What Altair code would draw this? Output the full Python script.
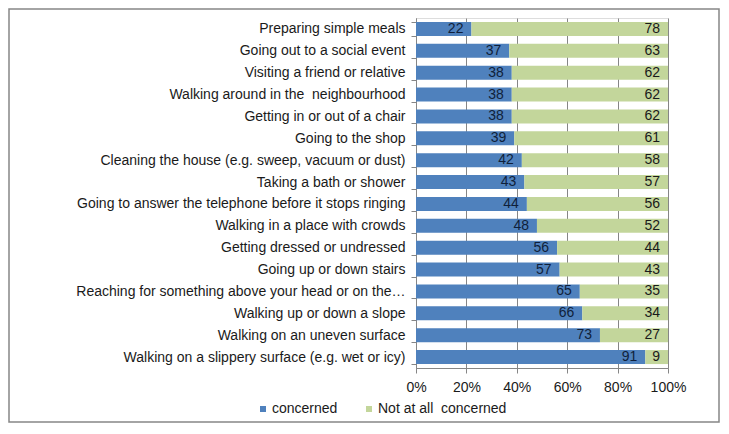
import altair as alt
import pandas as pd

categories = [
    "Preparing simple meals",
    "Going out to a social event",
    "Visiting a friend or relative",
    "Walking around in the \u00a0neighbourhood",
    "Getting in or out of a chair",
    "Going to the shop",
    "Cleaning the house (e.g. sweep, vacuum or dust)",
    "Taking a bath or shower",
    "Going to answer the telephone before it stops ringing",
    "Walking in a place with crowds",
    "Getting dressed or undressed",
    "Going up or down stairs",
    "Reaching for something above your head or on the\u2026",
    "Walking up or down a slope",
    "Walking on an uneven surface",
    "Walking on a slippery surface (e.g. wet or icy)",
]
concerned = [22, 37, 38, 38, 38, 39, 42, 43, 44, 48, 56, 57, 65, 66, 73, 91]
not_concerned = [78, 63, 62, 62, 62, 61, 58, 57, 56, 52, 44, 43, 35, 34, 27, 9]
series = ["concerned", "Not at all \u00a0concerned"]
colors = ["#4f81bd", "#c3d69b"]
label_colors = ["#0f1f3a", "#1a1a1a"]
x_ticks = [0, 20, 40, 60, 80, 100]

rows = []
for c, a, b in zip(categories, concerned, not_concerned):
    rows.append({"cat": c, "series": series[0], "value": a, "ord": 0})
    rows.append({"cat": c, "series": series[1], "value": b, "ord": 1})
df = pd.DataFrame(rows)

FONT = "Liberation Sans, Arial, sans-serif"
FS = 14

base = alt.Chart(df).transform_stack(
    stack="value", groupby=["cat"], as_=["x0", "x1"],
    sort=[alt.SortField("ord", order="ascending")]
)

y_enc = alt.Y(
    "cat:N", sort=categories, title=None,
    scale=alt.Scale(paddingInner=0.36, paddingOuter=0.18),
    axis=alt.Axis(
        tickBand="extent", labelFont=FONT, labelFontSize=FS, labelColor="#1a1a1a",
        labelPadding=6, labelLimit=420, domainColor="#868686", tickColor="#868686",
        tickSize=5, ticks=True,
    ),
)

bars = base.mark_bar(stroke=None).encode(
    x=alt.X(
        "x0:Q", title=None,
        scale=alt.Scale(domain=[0, 100], nice=False),
        axis=alt.Axis(
            values=x_ticks, labelExpr="datum.value + '%'", labelFont=FONT,
            labelFontSize=FS, labelColor="#1a1a1a", grid=True, gridColor="#868686",
            gridWidth=1, domainColor="#868686", tickColor="#868686", tickSize=5,
            labelPadding=7, labelFlush=False, labelOverlap=False,
        ),
    ),
    x2="x1:Q",
    y=y_enc,
    color=alt.Color(
        "series:N", sort=series,
        scale=alt.Scale(domain=series, range=colors),
        legend=alt.Legend(
            title=None, orient="none", direction="horizontal",
            legendX=-160, legendY=384, symbolType="square", symbolSize=36,
            symbolStrokeWidth=0, labelFont=FONT, labelFontSize=FS,
            labelColor="#1a1a1a", columnPadding=24, labelOffset=2,
        ),
    ),
)

labels = base.mark_text(align="right", baseline="middle", dx=-8, font=FONT, fontSize=FS).encode(
    x="x1:Q",
    y=alt.Y("cat:N", sort=categories),
    text="value:Q",
    color=alt.Color("series:N", scale=alt.Scale(domain=series, range=label_colors), legend=None),
)

frame = alt.Chart(pd.DataFrame({"a": [0]})).mark_rect(
    fill=None, stroke="#868686", strokeWidth=1.5, clip=False
).encode(
    x=alt.value(-407), x2=alt.value(303), y=alt.value(-9), y2=alt.value(404)
)

chart = alt.layer(bars, labels, frame).resolve_scale(color="independent").properties(
    width=252, height=350,
    autosize=alt.AutoSizeParams(type="none"),
    padding={"left": 408, "top": 10, "right": 52, "bottom": 55},
).configure_view(stroke=None).configure(background="white")

chart.save("out.html", embed_options={"renderer": "svg", "actions": False})
